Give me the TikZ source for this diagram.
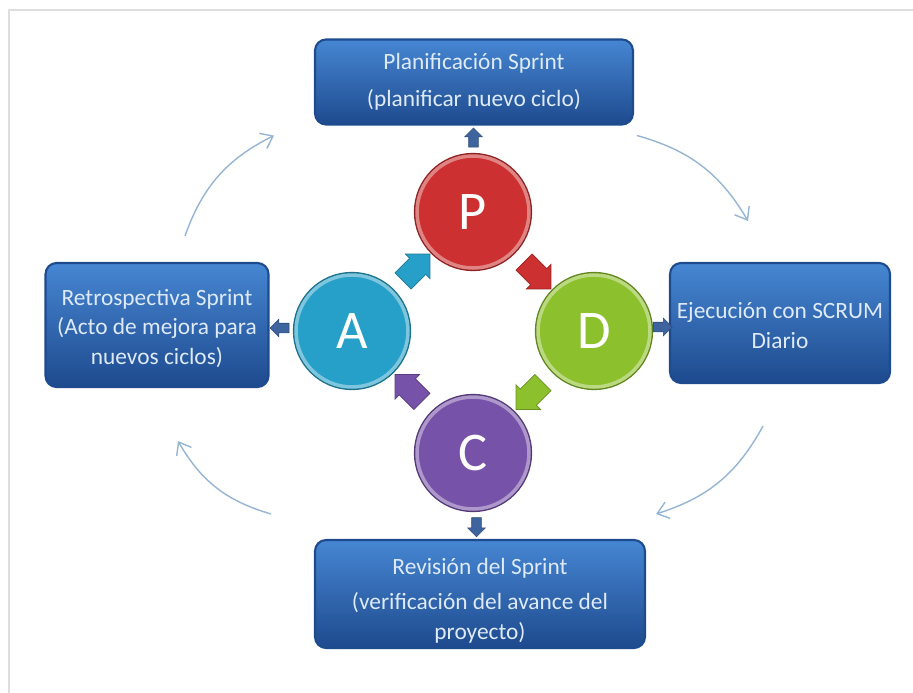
\documentclass[tikz,border=0pt]{standalone}
\usepackage{fontspec}
\setmainfont{Carlito}
\usetikzlibrary{shapes.arrows,arrows.meta,calc}
\definecolor{boxmid}{RGB}{46,110,192}
\definecolor{boxdark}{RGB}{30,74,142}
\definecolor{boxlight}{RGB}{70,134,210}
\definecolor{boxtext}{RGB}{222,234,250}
\definecolor{pred}{RGB}{204,48,48}
\definecolor{acyan}{RGB}{38,160,200}
\definecolor{dgreen}{RGB}{140,192,45}
\definecolor{cpurple}{RGB}{118,82,168}
\definecolor{smallarr}{RGB}{62,100,160}
\definecolor{cyc}{RGB}{150,180,212}
\definecolor{frame}{RGB}{222,222,222}
\begin{document}
\begin{tikzpicture}[x=0.02cm,y=-0.02cm,
  phasebox/.style={rectangle, rounded corners=0.22cm, draw=boxdark, line width=1.2pt,
    top color=boxlight, middle color=boxmid, bottom color=boxdark,
    text=boxtext, align=center, font=\fontsize{13.3}{16.8}\selectfont, inner sep=0pt},
  phase/.style={circle, minimum size=2.24cm, inner sep=0pt, text=white,
    font=\fontsize{31}{31}\selectfont, fill=#1, draw=#1!60!white, line width=2pt,
    preaction={draw=#1!70!black, line width=3.6pt}},
  blockarrow/.style={single arrow, single arrow head extend=0.12cm, minimum height=0.76cm,
    inner ysep=0.22cm, inner xsep=0pt, fill=#1, draw=#1!75!black, line width=0.4pt},
  smallarrow/.style={single arrow, single arrow head extend=0.08cm, minimum height=0.38cm,
    inner ysep=0.09cm, inner xsep=0pt, fill=smallarr, draw=smallarr!75!black, line width=0.3pt},
  cycarrow/.style={draw=cyc, line width=0.8pt, -{Straight Barb[length=2.2mm,width=3.4mm]}}
]
\useasboundingbox (0,0) rectangle (913,693);
\draw[frame, line width=1.2pt] (9,693) -- (9,10) -- (913,10);

% boxes
\node[phasebox, minimum width=6.36cm, minimum height=1.7cm] (top) at (474,82)
  {Planificación Sprint\\[4pt](planificar nuevo ciclo)};
\node[phasebox, minimum width=4.46cm, minimum height=2.48cm] (left) at (157,325)
  {\rule{0pt}{13pt}Retrospectiva Sprint\\(Acto de mejora para\\nuevos ciclos)};
\node[phasebox, minimum width=4.4cm, minimum height=2.4cm] (right) at (780,323)
  {\rule{0pt}{12pt}Ejecución con SCRUM\\Diario};
\node[phasebox, minimum width=6.6cm, minimum height=2.16cm] (bottom) at (480,594)
  {\rule{0pt}{17pt}Revisión del Sprint\\[3pt](verificación del avance del\\proyecto)};

% circles
\node[phase=pred] (P) at (473,212) {P};
\node[phase=acyan] (A) at (352,331) {A};
\node[phase=dgreen] (D) at (594,331) {D};
\node[phase=cpurple] (C) at (473,453) {C};

% block arrows between circles
\node[blockarrow=acyan, rotate=45] (aP) at ($(A)!0.5!(P)$) {};
\node[blockarrow=pred, rotate=-45] (pD) at ($(P)!0.5!(D)$) {};
\node[blockarrow=dgreen, rotate=-135] (dC) at ($(D)!0.5!(C)$) {};
\node[blockarrow=cpurple, rotate=135] (cA) at ($(C)!0.5!(A)$) {};

% small arrows from circles to boxes
\node[smallarrow, rotate=90] (sP) at ($(P.north)!0.5!(top.south)$) {};
\node[smallarrow, rotate=0] (sD) at ($(D.east)!0.5!(right.west)$) {};
\node[smallarrow, rotate=-90] (sC) at ($(C.south)!0.5!(bottom.north)$) {};
\node[smallarrow, rotate=180] (sA) at ($(A.west)!0.5!(left.east)$) {};

% cycle arrows
\draw[cycarrow] ([shift={(3,10)}]top.south east) to[bend left=22] ([shift={(-32,-41)}]right.north);
\draw[cycarrow] ([shift={(-17,42)}]right.south) to[bend left=22] ([shift={(10,-25)}]bottom.north east);
\draw[cycarrow] ([shift={(-43,-25)}]bottom.north west) to[bend left=22] ([shift={(21,53)}]left.south);
\draw[cycarrow] ([shift={(28,-26)}]left.north) to[bend left=22] ([shift={(-40,10)}]top.south west);
\end{tikzpicture}
\end{document}
